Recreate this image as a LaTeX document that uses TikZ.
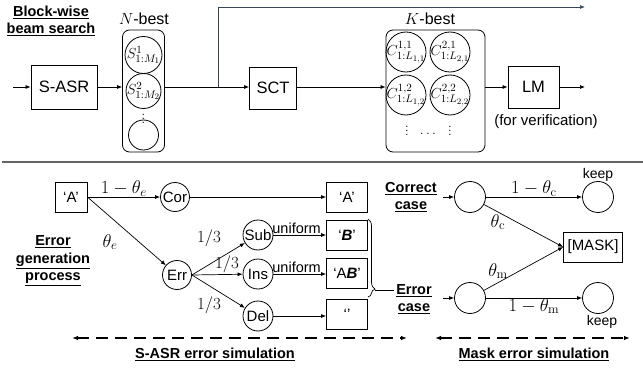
\RequirePackage{fix-cm}
\documentclass[tikz,border=0pt]{standalone}
\usepackage[no-math]{fontspec}
\setmainfont{Liberation Sans}
\DeclareMathSizes{14.5}{14.5}{11}{8.5}
\usetikzlibrary{arrows.meta,decorations.pathreplacing}
\definecolor{sepgray}{RGB}{100,100,100}
\definecolor{topline}{RGB}{55,70,85}
\begin{document}
\begin{tikzpicture}[x=1pt,y=-1pt,
  txt/.style={font=\fontsize{15}{17}\selectfont},
  bigtxt/.style={font=\fontsize{16.5}{19}\selectfont},
  boxnode/.style={draw, line width=0.8pt, inner sep=0pt, txt},
  circnode/.style={draw, circle, line width=0.8pt, inner sep=0pt, txt},
  mcirc/.style={draw, circle, line width=0.8pt, inner sep=-4pt, font=\fontsize{14.5}{16}\selectfont},
  dotsnode/.style={inner sep=0pt, font=\fontsize{11}{12}\selectfont},
  arr/.style={-{Latex[length=5pt,width=4pt]}, line width=0.7pt},
  mathlab/.style={font=\fontsize{18.5}{21}\selectfont, inner sep=1pt},
  fraclab/.style={font=\fontsize{17}{19}\selectfont, inner sep=1pt},
  title/.style={font=\fontsize{14.5}{17.5}\selectfont\bfseries, align=center, inner sep=0pt},
  dasharr/.style={{Latex[length=6pt,width=4.5pt]}-{Latex[length=6pt,width=4.5pt]}, line width=1.6pt, dash pattern=on 12pt off 7pt}
]
\useasboundingbox (0,0) rectangle (643,369);

% ---------- top part ----------
\node[title] (bw) at (51,21) {\underline{Block-wise}\\\underline{beam search}};

\coordinate (in0) at (13,87);
\node[boxnode, bigtxt, minimum width=66pt, minimum height=44pt] (sasr) at (64,87) {S-ASR};

\node[draw, rounded corners=7pt, line width=0.8pt, minimum width=42pt, minimum height=122pt, inner sep=0pt] (nbest) at (143.5,91) {};
\node[font=\fontsize{16}{18}\selectfont] (nlab) at (144,19) {$N$-best};
\node[mcirc, minimum size=37pt] (s1) at (143.5,55) {$S^{1}_{1:M_1}$};
\node[mcirc, minimum size=35pt] (s2) at (143.5,91) {$S^{2}_{1:M_2}$};
\node[dotsnode] (nvd) at (143.5,116) {$\vdots$};
\node[circnode, minimum size=30pt] (s3) at (143.5,135) {};

\coordinate (br) at (218,87);
\node[boxnode, bigtxt, minimum width=47pt, minimum height=42pt] (sct) at (273,88) {SCT};

\node[draw, rounded corners=7pt, line width=0.8pt, minimum width=99pt, minimum height=122pt, inner sep=0pt] (kbest) at (435.5,91) {};
\node[font=\fontsize{16}{18}\selectfont] (klab) at (430,19) {$K$-best};
\node[mcirc, minimum size=40pt] (c11) at (406,52) {$C^{1,1}_{1:L_{1,1}}$};
\node[mcirc, minimum size=40pt] (c21) at (450,52) {$C^{2,1}_{1:L_{2,1}}$};
\node[mcirc, minimum size=40pt] (c12) at (406,95) {$C^{1,2}_{1:L_{1,2}}$};
\node[mcirc, minimum size=40pt] (c22) at (450,95) {$C^{2,2}_{1:L_{2,2}}$};
\node[dotsnode] (kvd1) at (407,128) {$\vdots$};
\node[dotsnode] (kvd2) at (450,128) {$\vdots$};
\node[dotsnode, font=\fontsize{14}{15}\selectfont] (kcd) at (428,134) {$\ldots$};

\node[boxnode, bigtxt, minimum width=51pt, minimum height=42pt] (lm) at (533.5,87) {LM};
\node[txt] (ver) at (546,122) {(for verification)};
\coordinate (lmout) at (585,87);
\coordinate (topend) at (585,7);

\draw[arr] (in0) -- (sasr);
\draw[arr] (sasr) -- (sasr -| nbest.west);
\draw[line width=0.7pt] (br -| nbest.east) -- (br);
\draw[arr] (br) -- (br -| sct.west);
\draw[arr, topline] (br) -- (br |- topend) -- (topend);
\draw[arr] (br -| sct.east) -- (br -| kbest.west);
\draw[arr] (lm -| kbest.east) -- (lm);
\draw[arr] (lm) -- (lmout);

% separator
\draw[sepgray, line width=1.3pt] (2,162) -- (643,162);

% ---------- bottom left ----------
\node[boxnode, minimum width=32pt, minimum height=30pt] (a0) at (71,197) {‘A’};
\node[circnode, minimum size=29pt] (cor) at (175,197) {Cor};
\node[circnode, minimum size=29pt] (err) at (177,275) {Err};
\node[title] (egp) at (53,261) {\underline{Error}\\\underline{generation}\\\underline{process}};

\node[circnode, minimum size=30pt] (sub) at (258,235) {Sub};
\node[circnode, minimum size=30pt] (ins) at (258,274) {Ins};
\node[circnode, minimum size=30pt] (del) at (258,316) {Del};

\node[boxnode, minimum width=41pt, minimum height=30pt] (ra) at (347,197) {‘A’};
\node[boxnode, minimum width=41pt, minimum height=30pt] (rb) at (347,235) {‘\textbf{\textit{B}}’};
\node[boxnode, minimum width=41pt, minimum height=30pt] (rab) at (347,273) {‘A\textbf{\textit{B}}’};
\node[boxnode, minimum width=41pt, minimum height=30pt] (rdel) at (347,314) {‘’};

\draw[arr] (a0) -- (cor) node[mathlab, pos=0.5, above=-1pt] {$1-\theta_e$};
\draw[arr] (a0.east) -- (err);
\node[mathlab] (thetae) at (110,242) {$\theta_e$};
\draw[arr] (cor) -- (ra);

\draw[arr] (err.east) -- (sub);
\draw[arr] (err.east) -- (ins);
\draw[arr] (err.east) -- (del);
\node[fraclab] (p1) at (209,238) {$1/3$};
\node[fraclab] (p2) at (227,264) {$1/3$};
\node[fraclab] (p3) at (209,305) {$1/3$};

\draw[arr] (sub) -- (rb) node[pos=0.44, above=-2.5pt, font=\fontsize{14.5}{16}\selectfont] {uniform};
\draw[arr] (ins) -- (rab.west |- ins) node[pos=0.44, above=-2.5pt, font=\fontsize{14.5}{16}\selectfont] {uniform};
\draw[arr] (del) -- (rdel.west |- del);

\draw[line width=0.7pt, decorate, decoration={brace, amplitude=7pt, aspect=0.9}] (368,219) -- (368,297);
\coordinate (btip) at (375,290);
\coordinate (bend) at (394,290);
\draw[line width=1pt] (btip) -- (bend);

\node[title] (cc) at (411,197) {\underline{Correct}\\\underline{case}};
\node[title] (ec) at (414,299) {\underline{Error}\\\underline{case}};

% dashed arrows
\coordinate (d1l) at (72,338);
\coordinate (d1r) at (407,338);
\coordinate (d2l) at (435,338);
\coordinate (d2r) at (630,338);
\draw[dasharr] (d1l) -- (d1r);
\draw[dasharr] (d2l) -- (d2r);
\node[title] (sim1) at (215,354) {\underline{S-ASR error simulation}};
\node[title] (sim2) at (534,354) {\underline{Mask error simulation}};

% ---------- bottom right ----------
\node[circnode, minimum size=31pt] (mc) at (470,197) {};
\node[circnode, minimum size=31pt] (mk1) at (598,197) {};
\node[circnode, minimum size=31pt] (me) at (470,298) {};
\node[circnode, minimum size=31pt] (mk2) at (598,298) {};
\node[boxnode, minimum width=59pt, minimum height=30pt] (mask) at (593,247) {[MASK]};
\node[font=\fontsize{14}{15}\selectfont] (keep1) at (598,175) {keep};
\node[font=\fontsize{14}{15}\selectfont] (keep2) at (602,322) {keep};

\coordinate (mcin) at (443,197);
\coordinate (mein) at (443,298);
\draw[arr] (mcin) -- (mc);
\draw[arr] (mein) -- (me);
\draw[arr] (mc) -- (mk1) node[mathlab, pos=0.5, above=-1pt] {$1-\theta_{\mathrm{c}}$};
\draw[arr] (me) -- (mk2) node[mathlab, pos=0.5, below=-1pt] {$1-\theta_{\mathrm{m}}$};
\draw[arr] (mc) -- (mask.west);
\draw[arr] (me) -- (mask.west);
\node[mathlab] (thc) at (498,222) {$\theta_{\mathrm{c}}$};
\node[mathlab] (thm) at (498,271) {$\theta_{\mathrm{m}}$};
\end{tikzpicture}
\end{document}
